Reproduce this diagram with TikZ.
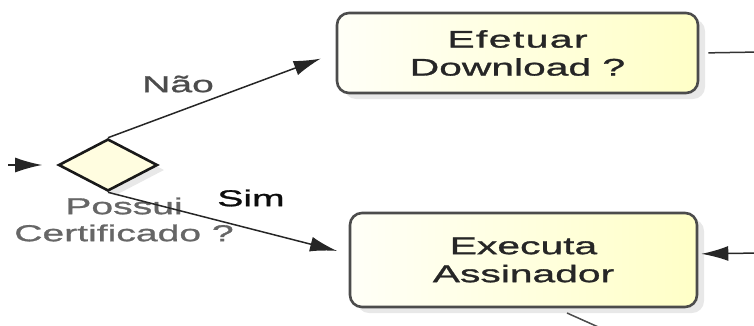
\documentclass[tikz,border=0pt]{standalone}
\usepackage{fontspec}
\newfontfamily\diafont[FakeStretch=1.7,FakeBold=1.2]{Liberation Sans}
\usetikzlibrary{positioning,shapes.geometric,shadows,arrows.meta}

\begin{document}
\begin{tikzpicture}[x=1pt,y=-1pt,
		decision/.style={diamond,draw=black!90,line width=2.6pt,fill=yellow!12,inner sep=0pt,
			minimum width=99pt,minimum height=52pt,
			drop shadow={shadow xshift=7pt,shadow yshift=-5pt,fill=black!18}},
		task/.style={rectangle,rounded corners=12pt,draw=black!70,line width=2.6pt,
			left color=yellow!3,right color=yellow!22,align=center,
			font=\diafont\fontsize{24}{28}\selectfont,text=black!85,
			drop shadow={shadow xshift=7pt,shadow yshift=-6pt,fill=black!18}},
		lbl/.style={font=\diafont\fontsize{23}{27}\selectfont,inner sep=0pt},
		flow/.style={draw=black!85,line width=1.5pt,-{Latex[length=27pt,width=15pt]}}]
		\useasboundingbox (0,0) rectangle (754,325);

		\node[decision]								(cert)	at (108,165)	{};
		\node[lbl,text=black!60,align=center,below=5pt of cert,xshift=16pt]	(certlbl)	{Possui\\Certificado ?};
		\node[task,minimum width=361pt,minimum height=80pt]	(down)	at (517.5,53)	{\addfontfeature{LetterSpace=6}Efetuar\\Download ?};
		\node[task,minimum width=347pt,minimum height=94pt]	(exec)	at (523.5,260)	{Executa\\Assinador};
		\node[lbl,text=black!70]						(nao)	at (178,84)	{Não};
		\node[lbl,text=black!95]						(sim)	at (251,198)	{Sim};

		\coordinate (start)		at (8,165);
		\coordinate (downout)	at (760,52);
		\coordinate (execin)	at (760,253);
		\coordinate (execout)	at (567,313);
		\coordinate (offpage)	at (605,330);

		\draw[flow,shorten >=15pt] (start) -- (cert.west);
		\draw[flow,shorten >=16pt] (cert.north) -- (down.west);
		\draw[flow,shorten >=12pt] (cert.south) -- (exec.178);
		\draw[draw=black!80,line width=1.5pt,shorten <=9pt] (down.east) -- (downout);
		\draw[flow,shorten >=3pt] (execin) -- (exec.2.3);
		\draw[draw=black!70,line width=1.5pt] (execout) -- (offpage);
	\end{tikzpicture}
\end{document}
